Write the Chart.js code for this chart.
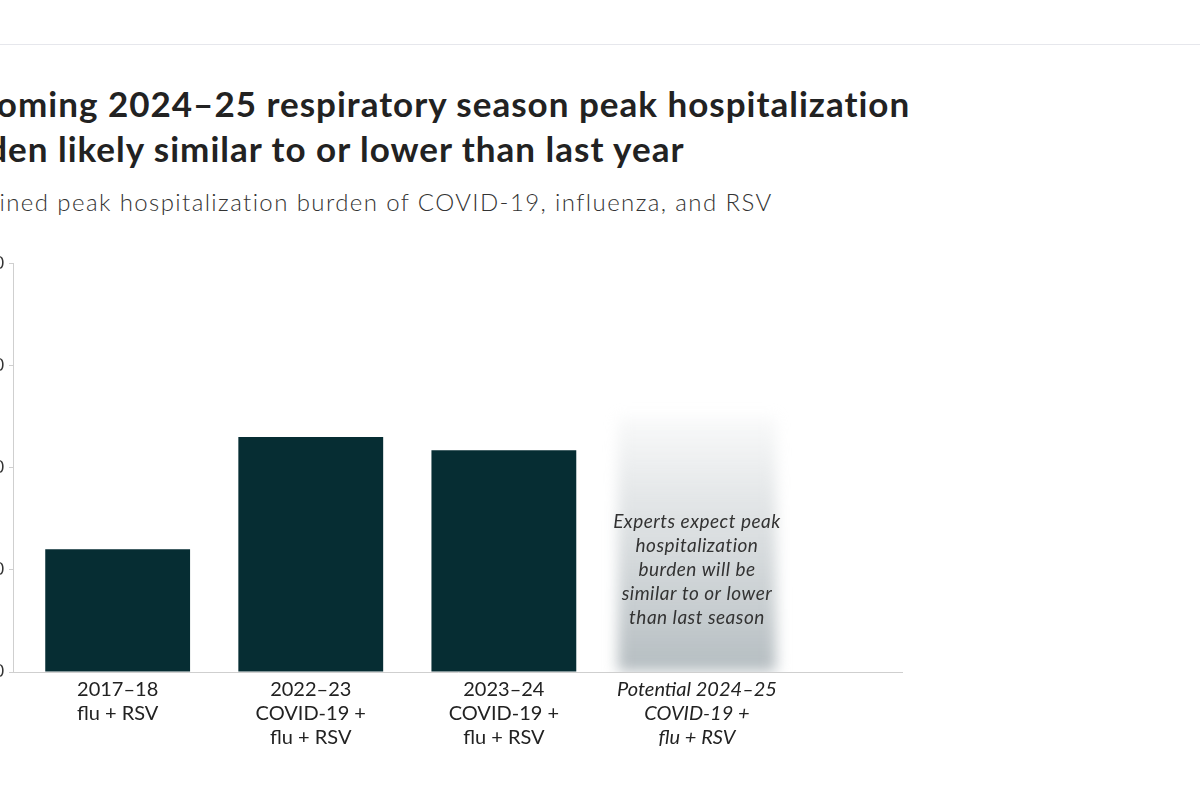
<!DOCTYPE html>
<html>
<head>
<meta charset="utf-8">
<script src="https://cdn.jsdelivr.net/npm/chart.js@4/dist/chart.umd.min.js"></script>
<style>
  html, body { margin: 0; padding: 0; background: #fff; overflow: hidden; width: 1200px; height: 800px; }
  #topline { position: absolute; left: 0; top: 44px; width: 1200px; height: 1px; background: #e6e7ec; }
  #hdr { position: absolute; left: -68px; top: 81px; white-space: nowrap; }
  #hdr h1 { margin: 0; font: 700 35px/45px Lato, "Noto Sans", sans-serif; letter-spacing: 1px; color: #222; }
  #hdr p { margin: 16px 0 0 0; font: 300 24px/30px Lato, "Noto Sans", sans-serif; letter-spacing: 1.4px; color: #333; }
  #wrap { position: absolute; left: -47px; top: 248px; width: 950px; height: 508px; }
</style>
</head>
<body>
<div id="topline"></div>
<div id="hdr">
  <h1>Upcoming 2024–25 respiratory season peak hospitalization<br>burden likely similar to or lower than last year</h1>
  <p>Combined peak hospitalization burden of COVID-19, influenza, and RSV</p>
</div>
<div id="wrap"><canvas id="peakChart"></canvas></div>
<script>
// Data
const categories = [
    ['2017–18', 'flu + RSV'],
    ['2022–23', 'COVID-19 +', 'flu + RSV'],
    ['2023–24', 'COVID-19 +', 'flu + RSV'],
    ['Potential 2024–25', 'COVID-19 +', 'flu + RSV']
];
const observed = [12.0, 23.0, 21.7, null];
const potential = [null, null, null, 25];
const yTicks = [0, 10, 20, 30, 40];
const noteLines = [
    'Experts expect peak',
    'hospitalization',
    'burden will be',
    'similar to or lower',
    'than last season'
];

const FONT = 'Lato, "Noto Sans", sans-serif';

// soft, blurred look for the projected season
const blurPlugin = {
    id: 'blurPotential',
    beforeDatasetDraw(chart, args) {
        if (args.index === 1) {
            chart.ctx.save();
            chart.ctx.filter = 'blur(7px)';
        }
    },
    afterDatasetDraw(chart, args) {
        if (args.index === 1) chart.ctx.restore();
    }
};

const notePlugin = {
    id: 'potentialNote',
    afterDatasetsDraw(chart) {
        const ctx = chart.ctx;
        const idx = potential.findIndex(v => v !== null);
        const cx = chart.scales.x.getPixelForValue(idx);
        const cy = chart.scales.y.getPixelForValue(potential[idx] * 0.4);
        const lh = 24;
        ctx.save();
        ctx.font = 'italic 19px ' + FONT;
        ctx.letterSpacing = '0.5px';
        ctx.fillStyle = '#333';
        ctx.textAlign = 'center';
        ctx.textBaseline = 'middle';
        noteLines.forEach((line, i) => {
            ctx.fillText(line, cx, cy + (i - (noteLines.length - 1) / 2) * lh);
        });
        ctx.restore();
    }
};

function potentialFill(context) {
    const chart = context.chart;
    if (!chart.chartArea) return '#c4cacd';
    const y = chart.scales.y;
    const idx = potential.findIndex(v => v !== null);
    const g = chart.ctx.createLinearGradient(0, y.getPixelForValue(potential[idx]), 0, y.getPixelForValue(0));
    g.addColorStop(0, 'rgba(218, 222, 224, 0.15)');
    g.addColorStop(0.35, 'rgba(218, 222, 224, 0.8)');
    g.addColorStop(1, 'rgba(180, 188, 192, 1)');
    return g;
}

function initPeakChart() {
    const ctx = document.getElementById('peakChart').getContext('2d');
    new Chart(ctx, {
        type: 'bar',
        data: {
            datasets: [{
                data: observed.map((v, i) => ({ x: i, y: v })),
                backgroundColor: '#062d33',
                barPercentage: 0.75,
                categoryPercentage: 1
            }, {
                data: potential.map((v, i) => ({ x: i, y: v })),
                backgroundColor: potentialFill,
                barPercentage: 0.82,
                categoryPercentage: 1
            }]
        },
        options: {
            responsive: true,
            maintainAspectRatio: false,
            animation: false,
            grouped: false,
            layout: { padding: { top: 4, right: 0, left: 0, bottom: 0 } },
            plugins: {
                legend: { display: false },
                tooltip: { enabled: false }
            },
            scales: {
                x: {
                    type: 'linear',
                    offset: false,
                    min: -0.542,
                    max: 4.067,
                    afterBuildTicks: scale => {
                        scale.ticks = categories.map((c, i) => ({ value: i }));
                    },
                    grid: { display: false, drawTicks: false },
                    border: { display: true, color: '#cfcfcf', width: 1 },
                    ticks: {
                        padding: 6,
                        color: '#222',
                        maxRotation: 0,
                        autoSkip: false,
                        font: c => ({ family: FONT, size: 20, lineHeight: 1.2, style: c.index === 3 ? 'italic' : 'normal' }),
                        callback: v => categories[v]
                    }
                },
                y: {
                    min: yTicks[0],
                    max: yTicks[yTicks.length - 1],
                    afterBuildTicks: scale => {
                        scale.ticks = yTicks.map(v => ({ value: v }));
                    },
                    afterFit: scale => { scale.width = 60; },
                    grid: { drawOnChartArea: false, drawTicks: true, tickLength: 4, color: '#cfcfcf' },
                    border: { display: true, color: '#cfcfcf', width: 1 },
                    ticks: {
                        padding: 5,
                        color: '#333',
                        font: { family: FONT, size: 17 }
                    }
                }
            }
        },
        plugins: [blurPlugin, notePlugin]
    });
}

document.addEventListener('DOMContentLoaded', initPeakChart);
</script>
</body>
</html>
